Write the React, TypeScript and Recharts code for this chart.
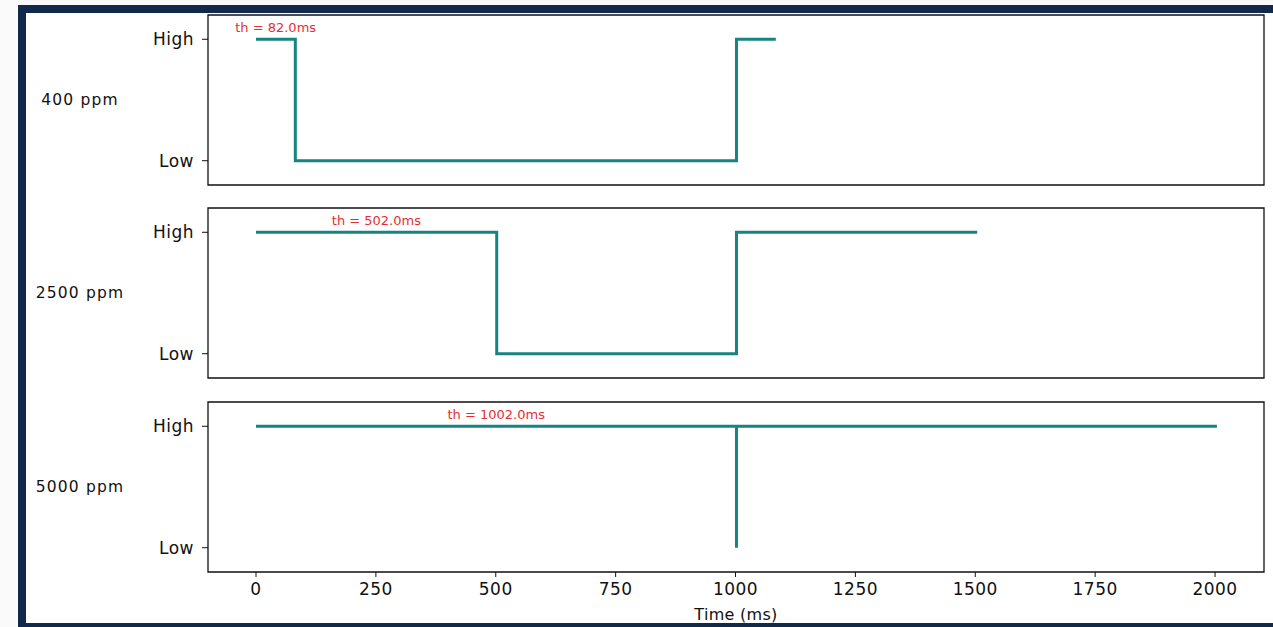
import {
  LineChart,
  Line,
  XAxis,
  YAxis,
  ReferenceArea,
  ReferenceDot,
} from "recharts";

// sensor response for each gas concentration (1 = High, 0 = Low)
const time400 = [0, 82, 82, 1002, 1002, 1084];
const level400 = [1, 1, 0, 0, 1, 1];
const time2500 = [0, 502, 502, 1002, 1002, 1504];
const level2500 = [1, 1, 0, 0, 1, 1];
const time5000 = [0, 1002, 1002, 1002, 2004];
const level5000 = [1, 1, 0, 1, 1];

const panelLabels = ["400 ppm", "2500 ppm", "5000 ppm"];
const thresholds = [82.0, 502.0, 1002.0];
const xTicks = [0, 250, 500, 750, 1000, 1250, 1500, 1750, 2000];
const yTicks = [0, 1];
const levelNames = ["Low", "High"];

const X_DOMAIN: [number, number] = [-100.1, 2102.1];
const Y_DOMAIN: [number, number] = [-0.2, 1.2];

const TEAL = "#178482";
const RED = "#e62e32";
const FONT = "'DejaVu Sans', sans-serif";

const toRows = (t: number[], v: number[]) => t.map((x, i) => ({ t: x, v: v[i] }));

const series = [
  toRows(time400, level400),
  toRows(time2500, level2500),
  toRows(time5000, level5000),
];

const panelTops = [0, 193, 387];

function Panel({ index }: { index: number }) {
  const last = index === 2;
  const th = thresholds[index];
  return (
    <div style={{ position: "absolute", left: 0, top: panelTops[index] }}>
      <LineChart
        width={1273}
        height={last ? 240 : 193}
        data={series[index]}
        margin={{ top: 15, right: 9, left: 0, bottom: 0 }}
      >
        <XAxis
          dataKey="t"
          type="number"
          domain={X_DOMAIN}
          ticks={xTicks}
          allowDataOverflow
          axisLine={false}
          tickLine={{ stroke: "#111" }}
          tickSize={5}
          tickMargin={6}
          height={last ? 55 : 8}
          tick={last ? { fill: "#111", fontSize: 17, fontFamily: FONT, letterSpacing: 0.5 } : false}
          label={
            last
              ? {
                  value: "Time (ms)",
                  position: "insideBottom",
                  offset: 7,
                  fill: "#111",
                  fontSize: 16,
                  fontFamily: FONT,
                  letterSpacing: 0.3,
                }
              : undefined
          }
        />
        <YAxis
          type="number"
          domain={Y_DOMAIN}
          ticks={yTicks}
          allowDataOverflow
          width={208}
          axisLine={false}
          tickLine={{ stroke: "#111" }}
          tickSize={6}
          tickMargin={8}
          tickFormatter={(v: number) => levelNames[v]}
          tick={{ fill: "#111", fontSize: 17, fontFamily: FONT, letterSpacing: 0.5 }}
        />
        <ReferenceArea
          x1={X_DOMAIN[0]}
          x2={X_DOMAIN[1]}
          y1={Y_DOMAIN[0]}
          y2={Y_DOMAIN[1]}
          fill="none"
          stroke="#111"
          strokeOpacity={1}
          strokeWidth={1.3}
        />
        <Line
          dataKey="v"
          type="linear"
          stroke={TEAL}
          strokeWidth={3}
          dot={false}
          activeDot={false}
          isAnimationActive={false}
        />
        <ReferenceDot
          x={th / 2}
          y={1.1}
          r={0}
          fill="none"
          stroke="none"
          label={{
            value: `th = ${th.toFixed(1)}ms`,
            position: "center",
            fill: RED,
            fontSize: 13,
            fontFamily: FONT,
          }}
        />
      </LineChart>
      <div
        style={{
          position: "absolute",
          left: 0,
          width: 160,
          top: 15 + 85 - 10,
          textAlign: "center",
          fontFamily: FONT,
          fontSize: 15.5,
          letterSpacing: 1.2,
          color: "#111",
          lineHeight: "20px",
        }}
      >
        {panelLabels[index]}
      </div>
    </div>
  );
}

export default function App() {
  return (
    <div
      style={{
        position: "absolute",
        left: 0,
        top: 0,
        width: 1273,
        height: 627,
        overflow: "hidden",
        background: "#fafafb",
      }}
    >
      <div
        style={{
          position: "absolute",
          left: 18,
          top: 5,
          width: 1270,
          height: 622,
          boxSizing: "border-box",
          borderLeft: "8px solid #13294b",
          borderTop: "8px solid #13294b",
          borderBottom: "4px solid #13294b",
          background: "#fff",
        }}
      />
      {[0, 1, 2].map((i) => (
        <Panel key={i} index={i} />
      ))}
    </div>
  );
}
